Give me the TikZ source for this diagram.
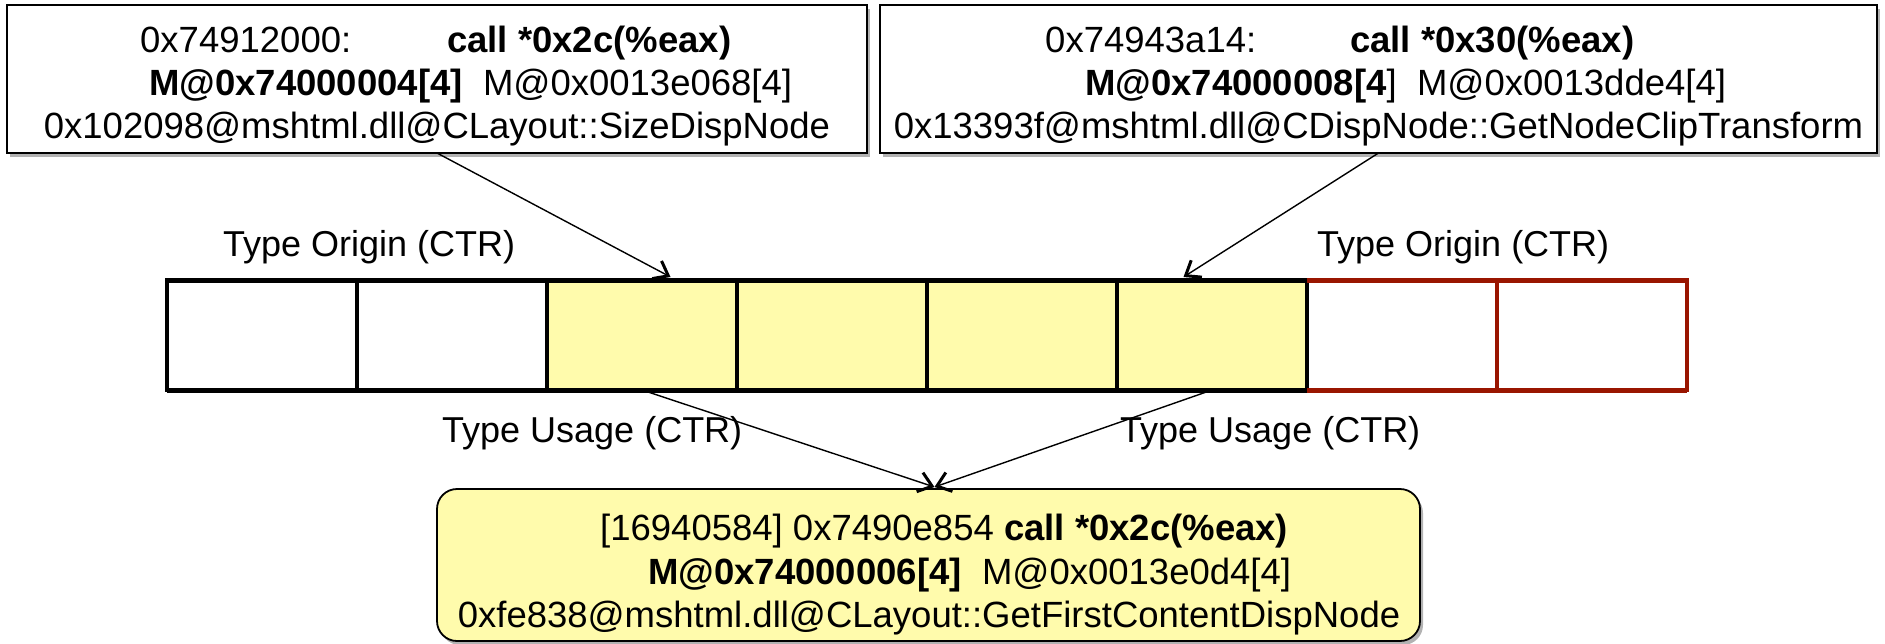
\documentclass[tikz,border=0pt]{standalone}
\usepackage{fontspec}
\setmainfont{Liberation Sans}
\usetikzlibrary{arrows.meta,calc,shadows}
\definecolor{cellyellow}{RGB}{255,251,172}
\definecolor{origred}{RGB}{153,21,0}
\begin{document}
\begin{tikzpicture}[x=1pt,y=-1pt,
  box/.style={draw=black, line width=1.8pt, fill=white, inner sep=0pt, outer sep=0pt,
    drop shadow={shadow xshift=3pt, shadow yshift=-4pt, opacity=.3, fill=black}},
  usebox/.style={box, fill=cellyellow, rounded corners=20pt},
  txt/.style={inner sep=0pt, anchor=base west, font=\fontsize{36.5}{40}\selectfont},
  lbl/.style={inner sep=0pt, anchor=base west, font=\fontsize{36}{40}\selectfont},
  cell/.style={draw=black, line width=3.5pt, minimum width=190pt, minimum height=110pt,
    inner sep=0pt, outer sep=0pt},
  ycell/.style={cell, fill=cellyellow},
  rcell/.style={cell, draw=origred},
  arr/.style={line width=1.4pt, -{Straight Barb[length=13pt,width=20pt,line width=3pt]}}]
\useasboundingbox (0,0) rectangle (1885,643);

% call-site boxes
\node[box, minimum width=860pt, minimum height=148pt] (tl) at (437,79) {};
\node[box, minimum width=997pt, minimum height=148pt] (tr) at (1378.5,79) {};
\node[usebox, minimum width=983pt, minimum height=152pt] (bot) at (928.5,565) {};

% memory cells: red ones first so the shared edge stays black
\node[rcell] (c7) at (1402,335) {};
\node[rcell] (c8) at (1592,335) {};
\node[cell]  (c1) at (262,335) {};
\node[cell]  (c2) at (452,335) {};
\node[ycell] (c3) at (642,335) {};
\node[ycell] (c4) at (832,335) {};
\node[ycell] (c5) at (1022,335) {};
\node[ycell] (c6) at (1212,335) {};
\draw[line width=5pt] (c1.north west) -- (c6.north east);
\draw[line width=5pt] (c1.south west) -- (c6.south east);
\draw[line width=5pt, origred] (c7.north west) -- (c8.north east);
\draw[line width=5pt, origred] (c7.south west) -- (c8.south east);

% texts of the top-left box
\node[txt] (tl1a) at (140,52) {0x74912000:};
\node[txt] (tl1b) at (447,52) {\bfseries call *0x2c(\%eax)};
\node[txt] (tl2) at (149,95) {\textbf{M@0x74000004[4]}\ \ M@0x0013e068[4]};
\node[txt, anchor=base] (tl3) at (437,138) {0x102098@mshtml.dll@CLayout::SizeDispNode};

% texts of the top-right box
\node[txt] (tr1a) at (1045,52) {0x74943a14:};
\node[txt] (tr1b) at (1350,52) {\bfseries call *0x30(\%eax)};
\node[txt] (tr2) at (1085,95) {\textbf{M@0x74000008[4}]\ \ M@0x0013dde4[4]};
\node[txt, anchor=base] (tr3) at (1378.5,138) {0x13393f@mshtml.dll@CDispNode::GetNodeClipTransform};

% texts of the bottom box
\node[txt] (b1) at (600,540) {[16940584] 0x7490e854 \textbf{call *0x2c(\%eax)}};
\node[txt] (b2) at (648,584) {\textbf{M@0x74000006[4]}\ \ M@0x0013e0d4[4]};
\node[txt, anchor=base] (b3) at (929,627) {0xfe838@mshtml.dll@CLayout::GetFirstContentDispNode};

% labels
\node[lbl] (o1) at (223,256) {Type Origin (CTR)};
\node[lbl] (o2) at (1317,256) {Type Origin (CTR)};
\node[lbl] (u1) at (442,442) {Type Usage (CTR)};
\node[lbl] (u2) at (1120,442) {Type Usage (CTR)};

% connectors
\draw[arr] (tl.south) -- ($(c3.north)!0.3!(c3.north east)+(0,-3)$);
\draw[arr] (tr.south) -- ($(c6.north)!0.3!(c6.north west)+(0,-3)$);
\draw[arr] (c3.south) -- ($(bot.north)+(6,-2)$);
\draw[arr] (c6.south) -- ($(bot.north)+(6,-2)$);
\end{tikzpicture}
\end{document}
